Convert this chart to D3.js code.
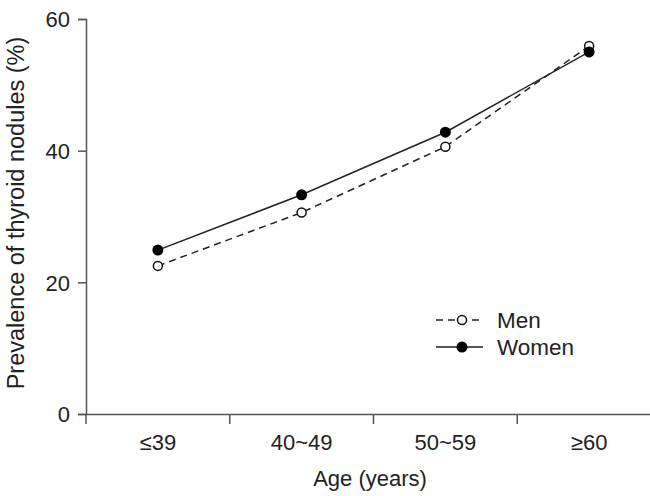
<!DOCTYPE html>
<html>
<head>
<meta charset="utf-8">
<script src="https://cdn.jsdelivr.net/npm/d3@7"></script>
<style>
  body { margin: 0; background: #fff; }
  text { font-family: "Liberation Sans", Arial, sans-serif; fill: #222; }
</style>
</head>
<body>
<div id="chart"></div>
<script>
// data
var ages = ["≤39", "40~49", "50~59", "≥60"];
var men = [22.5, 30.6, 40.6, 55.9];
var women = [24.9, 33.3, 42.8, 55.0];
var yTicks = [0, 20, 40, 60];

var width = 650, height = 496;
var fontSize = 22;

var svg = d3.select("#chart").append("svg")
    .attr("width", width)
    .attr("height", height);

// x: one band per age group, points in the middle of each band
var x = d3.scaleBand()
    .domain(ages)
    .range([86, 661]);

var y = d3.scaleLinear()
    .domain([0, 60])
    .range([414, 19]);

var axisColor = "#555";

// y axis
var yAxis = svg.append("g")
    .attr("transform", "translate(86,0)")
    .call(d3.axisLeft(y).tickValues(yTicks).tickSize(8).tickPadding(8).tickFormat(d3.format("d")));
yAxis.select(".domain").attr("stroke", axisColor).attr("stroke-width", 1.5);
yAxis.selectAll(".tick line").attr("stroke", axisColor).attr("stroke-width", 1.5);
yAxis.selectAll(".tick text")
    .style("font-size", fontSize + "px")
    .attr("font-family", null)
    .attr("dy", "0.35em");

// x axis: labels centred in bands, ticks at band edges
var xAxis = svg.append("g")
    .attr("transform", "translate(0,414)")
    .call(d3.axisBottom(x).tickSize(0).tickSizeOuter(0));
xAxis.select(".domain").attr("stroke", axisColor).attr("stroke-width", 1.5);
xAxis.selectAll(".tick text")
    .style("font-size", fontSize + "px")
    .attr("font-family", null)
    .attr("y", 36)
    .attr("dy", 0);

xAxis.selectAll(".edge")
    .data(ages)
    .enter().append("line")
    .attr("class", "edge")
    .attr("x1", function(d) { return x(d); })
    .attr("x2", function(d) { return x(d); })
    .attr("y1", 0)
    .attr("y2", 10)
    .attr("stroke", axisColor)
    .attr("stroke-width", 1.5);

// axis titles
svg.append("text")
    .attr("x", 370)
    .attr("y", 486)
    .attr("text-anchor", "middle")
    .style("font-size", fontSize + "px")
    .text("Age (years)");

svg.append("text")
    .attr("transform", "translate(24,213) rotate(-90)")
    .attr("text-anchor", "middle")
    .style("font-size", "23.5px")
    .text("Prevalence of thyroid nodules (%)");

// lines
var line = d3.line()
    .x(function(d, i) { return x(ages[i]) + x.bandwidth() / 2; })
    .y(function(d) { return y(d); });

svg.append("path")
    .datum(men)
    .attr("fill", "none")
    .attr("stroke", "#222")
    .attr("stroke-width", 1.5)
    .attr("stroke-dasharray", "7,5")
    .attr("d", line);

svg.append("path")
    .datum(women)
    .attr("fill", "none")
    .attr("stroke", "#222")
    .attr("stroke-width", 1.5)
    .attr("d", line);

// points
svg.selectAll(".men-dot")
    .data(men)
    .enter().append("circle")
    .attr("class", "men-dot")
    .attr("cx", function(d, i) { return x(ages[i]) + x.bandwidth() / 2; })
    .attr("cy", function(d) { return y(d); })
    .attr("r", 4.5)
    .attr("fill", "#fff")
    .attr("stroke", "#111")
    .attr("stroke-width", 1.5);

svg.selectAll(".women-dot")
    .data(women)
    .enter().append("circle")
    .attr("class", "women-dot")
    .attr("cx", function(d, i) { return x(ages[i]) + x.bandwidth() / 2; })
    .attr("cy", function(d) { return y(d); })
    .attr("r", 5.5)
    .attr("fill", "#000");

// legend
var legend = [
    {name: "Men", dash: "7,5", fill: "#fff", r: 4.5},
    {name: "Women", dash: null, fill: "#000", r: 5.5}
];
var lg = svg.selectAll(".legend")
    .data(legend)
    .enter().append("g")
    .attr("class", "legend")
    .attr("transform", function(d, i) { return "translate(436," + (320 + i * 27) + ")"; });

lg.append("line")
    .attr("x1", 0).attr("x2", 47)
    .attr("stroke", "#222")
    .attr("stroke-width", 1.5)
    .attr("stroke-dasharray", function(d) { return d.dash; });
lg.append("circle")
    .attr("cx", 26)
    .attr("r", function(d) { return d.r; })
    .attr("fill", function(d) { return d.fill; })
    .attr("stroke", "#111")
    .attr("stroke-width", function(d) { return d.fill === "#000" ? 0 : 1.5; });
lg.append("text")
    .attr("x", 61)
    .attr("y", 8)
    .style("font-size", "22.5px")
    .text(function(d) { return d.name; });
</script>
</body>
</html>
